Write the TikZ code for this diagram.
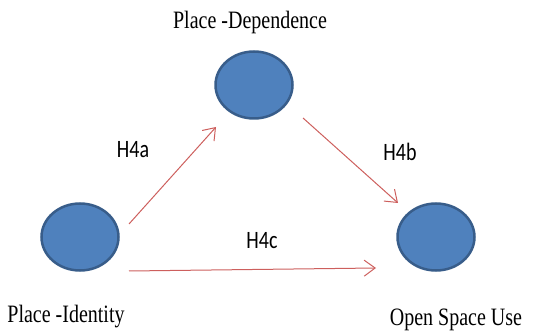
\documentclass[tikz,border=0pt]{standalone}
\usepackage{fontspec}
\setmainfont{Liberation Serif}
\newfontfamily\calfont{Carlito}
\usetikzlibrary{shapes.geometric,arrows.meta}
\definecolor{blobfill}{HTML}{4F81BD}
\definecolor{blobedge}{HTML}{385D8A}
\definecolor{arrowred}{HTML}{CD5F5D}
\tikzset{
  blob/.style={ellipse, fill=blobfill, draw=blobedge, line width=2.5pt, minimum width=77pt, minimum height=67pt, inner sep=0pt},
  serlabel/.style={anchor=base, inner sep=0pt, font=\fontsize{20}{24}\selectfont},
  hlabel/.style={inner sep=0pt, font=\calfont\fontsize{20}{24}\selectfont},
  relarrow/.style={draw=arrowred, line width=1pt, -{Straight Barb[length=11pt,width=16pt,line width=1pt]}}
}
\newcommand{\tallt}[1]{\scalebox{1}[1.25]{#1}}
\begin{document}
\begin{tikzpicture}[x=1pt,y=-1pt]
\useasboundingbox (0,0) rectangle (533,331);
\node[blob] (pd) at (254,85) {};
\node[blob] (pi) at (80,237) {};
\node[blob] (os) at (436,237) {};
\node[serlabel] (tpd) at (250,29) {\tallt{Place -Dependence}};
\node[serlabel] (tpi) at (66,322) {\tallt{Place -Identity}};
\node[serlabel] (tos) at (456,325) {\tallt{Open Space Use}};
\node[hlabel] (ha) at (133,150) {\tallt{H4a}};
\node[hlabel] (hb) at (400,152) {\tallt{H4b}};
\node[hlabel] (hc) at (262,241) {\tallt{H4c}};
\draw[relarrow] ([shift={(49,-13)}]pi.center) -- ([shift={(-38,42)}]pd.center);
\draw[relarrow] ([shift={(49,33)}]pd.center) -- ([shift={(-38,-34)}]os.center);
\draw[relarrow] ([shift={(49,34)}]pi.center) -- ([shift={(-60,31)}]os.center);
\end{tikzpicture}
\end{document}
